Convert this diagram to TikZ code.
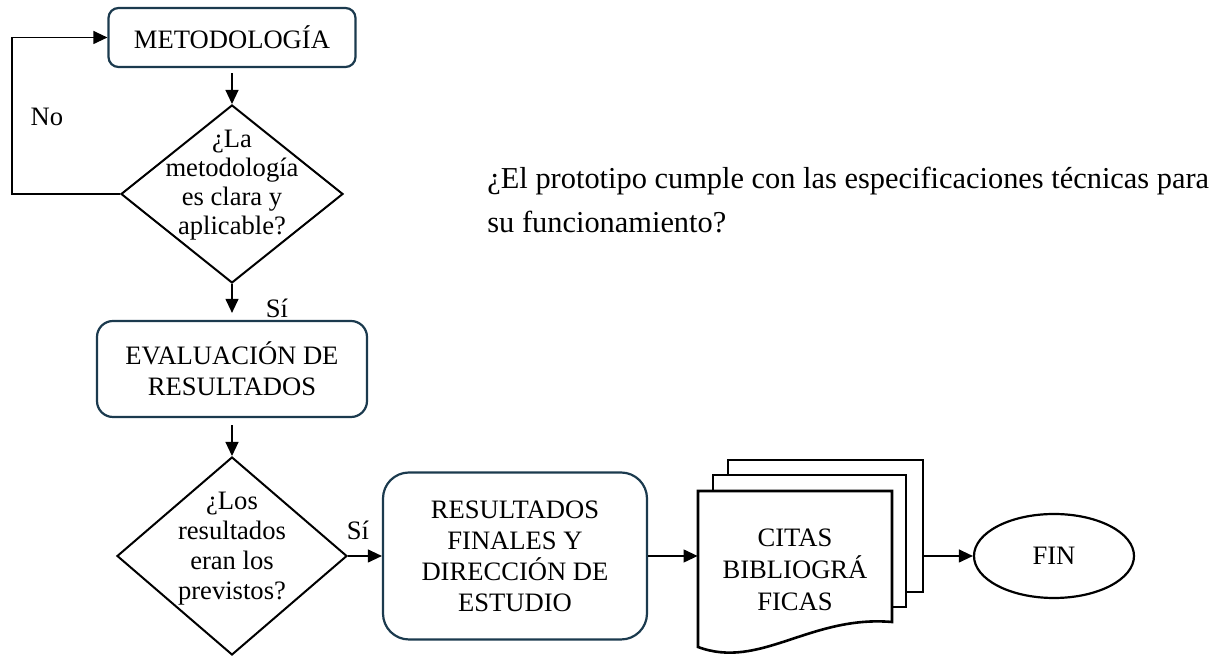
\documentclass[tikz,border=0pt]{standalone}
\usepackage{fontspec}
\setmainfont{Liberation Serif}
\usetikzlibrary{shapes.geometric}
\usetikzlibrary{arrows.meta}
\definecolor{boxcol}{HTML}{1B3A4E}
\tikzset{>={Triangle[length=7pt,width=6.5pt]}}
\tikzset{process/.style = {shape=rectangle,draw=boxcol,line width=1.1pt,align=center,inner sep=0pt}}
\tikzset{decision/.style = {shape=diamond,draw,line width=1pt,inner sep=0pt}}
\tikzset{dtext/.style = {align=center,font=\fontsize{13.3}{14.5}\selectfont}}
\tikzset{terminal/.style = {shape=ellipse,draw,line width=1.1pt,minimum width=80pt,minimum height=42pt}}
\tikzset{sheet/.style = {draw,fill=white,line width=1.3pt}}
\tikzset{flow/.style = {->,line width=0.6pt}}

\begin{document}
\begin{tikzpicture}[x=0.5pt,y=-0.5pt,font=\fontsize{13.3}{15.5}\selectfont]
                    \useasboundingbox (0,0) rectangle (1212,656);

                    \node[process,rounded corners=5pt,minimum width=123.5pt,minimum height=29.5pt] (metod) at (232,37.5) {METODOLOGÍA};
                    \node[decision,minimum width=111pt,minimum height=89pt] (q1) at (232,194) {};
                    \node[dtext] (q1txt) at (232,185) {¿La\\metodología\\es clara y\\aplicable?};
                    \node[process,rounded corners=8pt,minimum width=135pt,minimum height=48pt] (evalua) at (232,369) {EVALUACIÓN DE\\RESULTADOS};
                    \node[decision,minimum width=115pt,minimum height=99pt] (q2) at (232,556) {};
                    \node[dtext,font=\fontsize{13.3}{15}\selectfont] (q2txt) at (232,549) {¿Los\\resultados\\eran los\\previstos?};
                    \node[process,rounded corners=13pt,minimum width=132pt,minimum height=83.5pt] (final) at (515,556) {RESULTADOS\\FINALES Y\\DIRECCIÓN DE\\ESTUDIO};

                    \draw[sheet] (728,460) rectangle (923,592);
                    \draw[sheet] (713,475) rectangle (906,607);
                    \draw[sheet] (698,647) -- (698,491) -- (892,491) -- (892,622) .. controls (810,615) and (760,670) .. (698,647) -- cycle;
                    \node[inner sep=0pt,minimum width=112.5pt,minimum height=60pt] (citas) at (810.5,556) {};
                    \node[align=center,font=\fontsize{13.3}{16}\selectfont] (citastxt) at (795,570) {CITAS\\BIBLIOGRÁ\\FICAS};
                    \node[terminal] (fin) at (1054,556) {FIN};

                    \node[anchor=west,align=left,inner sep=0pt,font=\fontsize{15.2}{22}\selectfont] (pregunta) at (487,200) {¿El prototipo cumple con las especificaciones técnicas para\\su funcionamiento?};
                    \node (no) at (47,117) {No};
                    \node (si1) at (277,308) {Sí};
                    \node (si2) at (358,530) {Sí};
                    \coordinate (loop) at (12,194);

                    \draw[flow,shorten <=2.5pt] (metod) -- (q1);
                    \draw[flow] (q1.west) -- (loop) |- (metod.west);
                    \draw[flow,shorten >=3.5pt] (q1) -- (evalua);
                    \draw[flow,shorten <=3.5pt] (evalua) -- (q2);
                    \draw[flow] (q2) -- (final);
                    \draw[flow] (final) -- (citas);
                    \draw[flow] (citas) -- (fin);
                \end{tikzpicture}
\end{document}
